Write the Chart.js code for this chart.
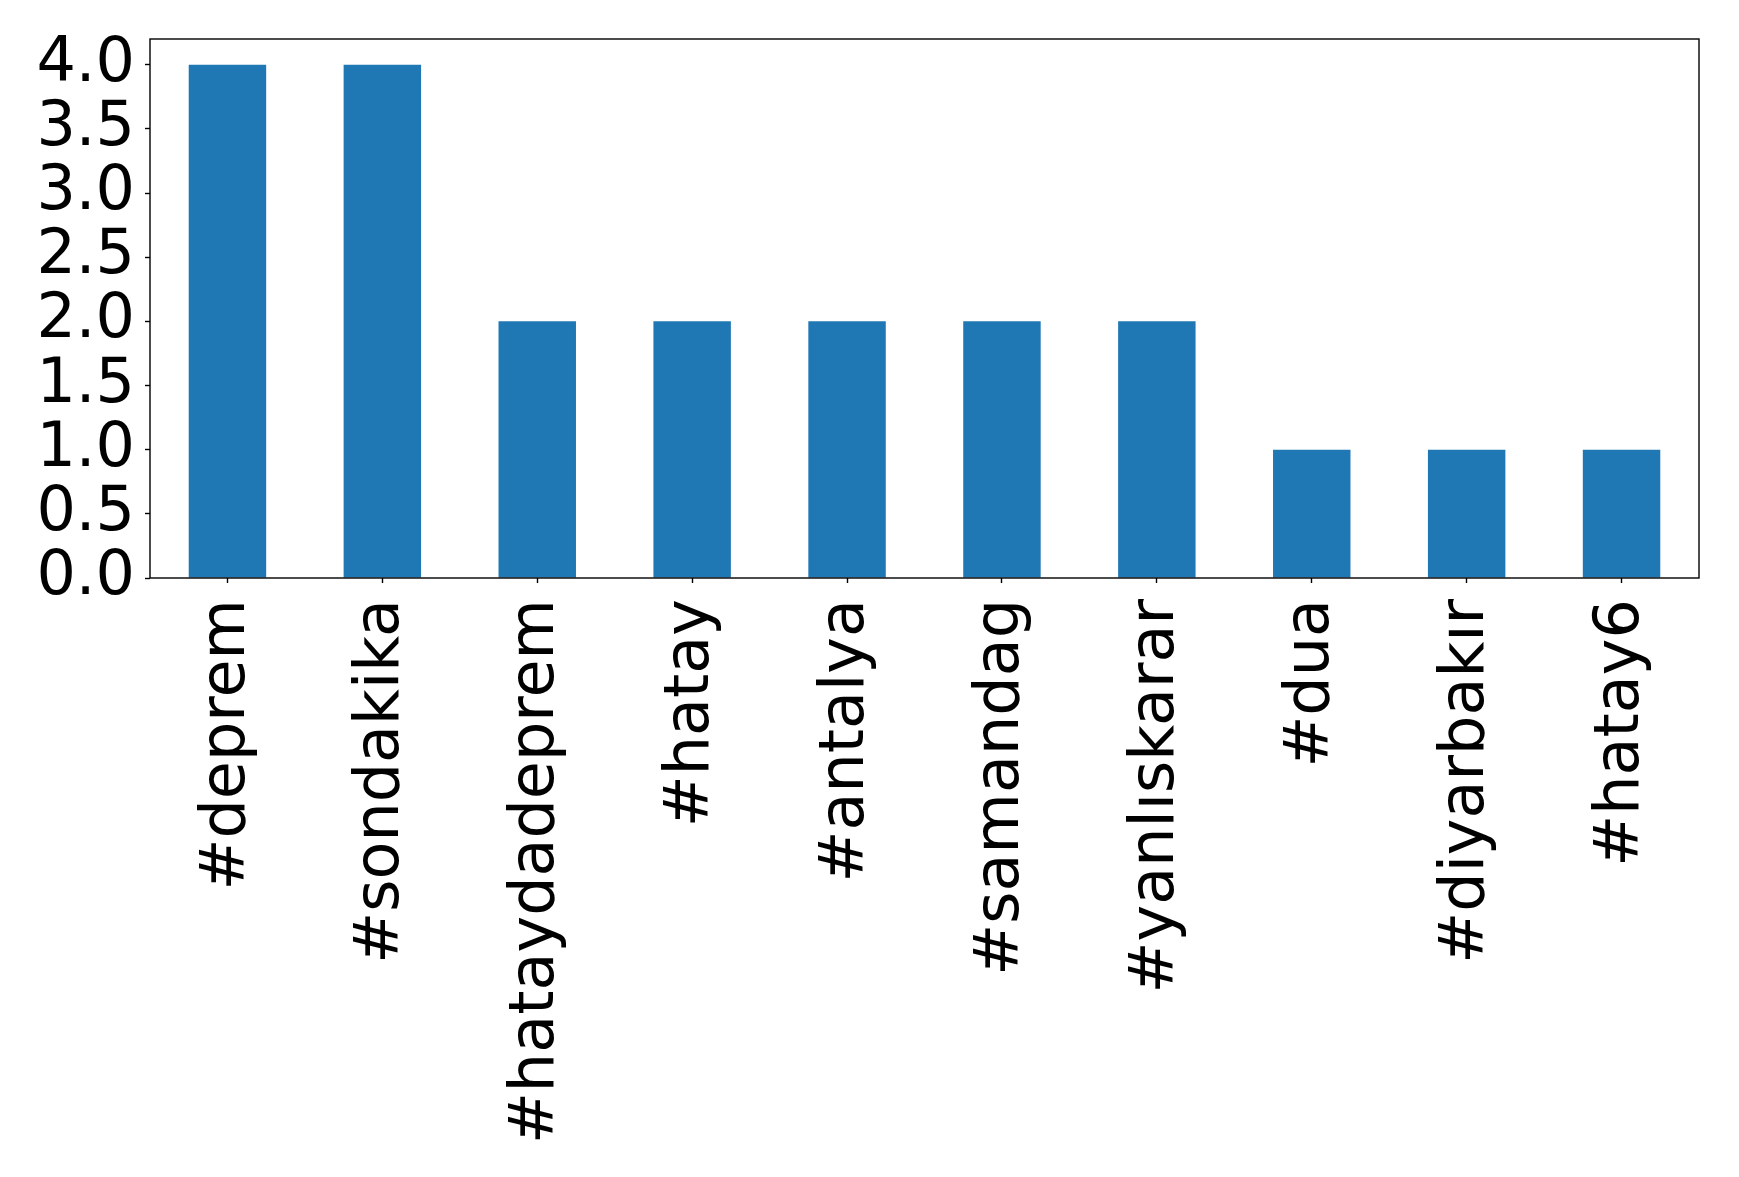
<!DOCTYPE html>
<html>
<head>
<meta charset="utf-8">
<script src="https://cdn.jsdelivr.net/npm/chart.js@4"></script>
<style>
  body { margin: 0; background: #ffffff; }
  #wrap { width: 1739px; height: 1177px; }
</style>
</head>
<body>
<div id="wrap"><canvas id="myChart" width="1739" height="1177"></canvas></div>
<script>
// hashtag counts
const hashtags = ["#deprem", "#sondakika", "#hataydadeprem", "#hatay", "#antalya",
                  "#samandag", "#yanlıskarar", "#dua", "#diyarbakır", "#hatay6"];
const counts = [4, 4, 2, 2, 2, 2, 2, 1, 1, 1];
const yTicks = [0.0, 0.5, 1.0, 1.5, 2.0, 2.5, 3.0, 3.5, 4.0];

// draws the full box around the plot (matplotlib spines)
const frame = {
    id: "frame",
    afterDraw(chart) {
        const a = chart.chartArea;
        const c = chart.ctx;
        c.save();
        c.strokeStyle = "#000000";
        c.lineWidth = 1.4;
        c.strokeRect(a.left, a.top, a.right - a.left, a.bottom - a.top);
        c.restore();
    }
};

var ctx = document.getElementById("myChart");

var myChart = new Chart(ctx, {
    type: "bar",
    data: {
        labels: hashtags,
        datasets: [{
            data: counts,
            backgroundColor: "#1f77b4",
            borderWidth: 0,
            categoryPercentage: 1.0,
            barPercentage: 0.5,
        }],
    },
    options: {
        responsive: false,
        devicePixelRatio: 1,
        animation: false,
        layout: {
            padding: { top: 39, right: 40, left: 0, bottom: 0 },
        },
        scales: {
            x: {
                grid: {
                    offset: false,
                    drawOnChartArea: false,
                    drawTicks: true,
                    tickLength: 5,
                    tickColor: "#000000",
                    tickWidth: 1.4,
                },
                border: { display: false },
                ticks: {
                    autoSkip: false,
                    minRotation: 90,
                    maxRotation: 90,
                    padding: 16,
                    color: "#000000",
                    font: { family: "DejaVu Sans", size: 62 },
                },
                afterFit: function (scale) {
                    scale.height = 599;
                    scale.paddingLeft = 0;
                    scale.paddingRight = 0;
                },
            },
            y: {
                min: 0,
                max: 4.2,
                afterBuildTicks: function (scale) {
                    scale.ticks = yTicks.map(v => ({ value: v }));
                },
                grid: {
                    drawOnChartArea: false,
                    drawTicks: true,
                    tickLength: 5,
                    tickColor: "#000000",
                    tickWidth: 1.4,
                },
                border: { display: false },
                ticks: {
                    autoSkip: false,
                    padding: 10,
                    color: "#000000",
                    font: { family: "DejaVu Sans", size: 62 },
                    callback: function (value) {
                        return Number(value).toFixed(1);
                    },
                },
                afterFit: function (scale) {
                    scale.width = 150;
                    scale.paddingTop = 0;
                    scale.paddingBottom = 0;
                },
            },
        },
        plugins: {
            legend: { display: false },
            tooltip: { enabled: false },
        },
    },
    plugins: [frame],
});
</script>
</body>
</html>
